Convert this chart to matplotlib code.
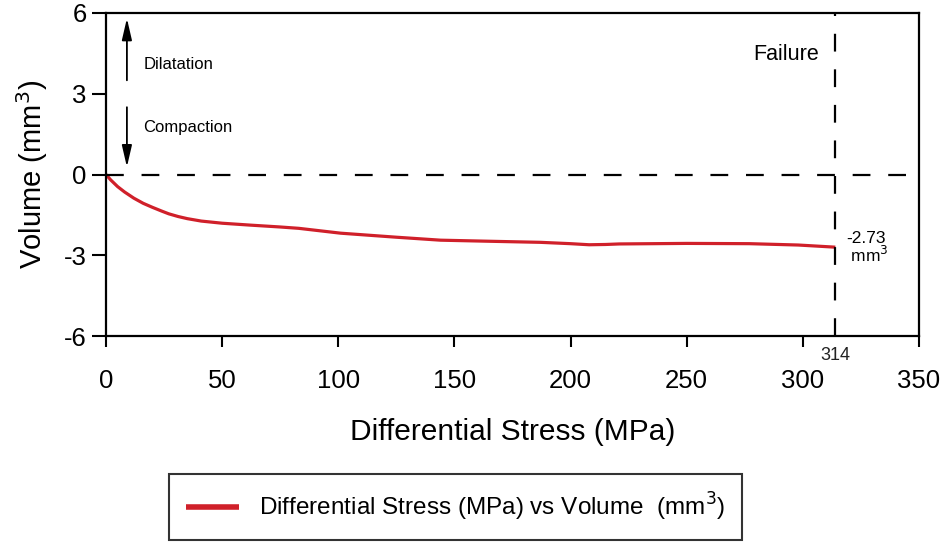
import matplotlib
matplotlib.use("Agg")
import matplotlib.pyplot as plt

plt.rcParams["font.family"] = ["Liberation Sans", "DejaVu Sans"]
plt.rcParams["axes.unicode_minus"] = False

# ======== data ========
stress = [0, 2, 5, 8, 12, 16, 20, 24, 27, 31, 35, 41, 50, 62, 75, 83, 101,
          125, 144, 165, 187, 200, 208, 215, 221, 250, 277, 298, 314]
volume = [0, -0.2, -0.45, -0.65, -0.88, -1.07, -1.22, -1.36, -1.46, -1.56, -1.64,
          -1.73, -1.81, -1.88, -1.95, -2.0, -2.18, -2.33, -2.44, -2.48, -2.52,
          -2.57, -2.61, -2.6, -2.58, -2.56, -2.57, -2.62, -2.7]

xticks = [0, 50, 100, 150, 200, 250, 300, 350]
yticks = [-6, -3, 0, 3, 6]
failure_stress = 314
final_volume = -2.73

fig = plt.figure(figsize=(9.44, 5.42), dpi=100)
ax = fig.add_axes([106 / 944, 1 - 336 / 542, (919 - 106) / 944, (336 - 13) / 542])

line, = ax.plot(stress, volume, color="#d0202a", lw=2.3, solid_capstyle="butt",
                label="Differential Stress (MPa) vs Volume  (mm$^3$)")

# reference lines
ax.axhline(0, color="black", lw=1.6, dashes=(8, 8))
ax.axvline(failure_stress, color="black", lw=1.6, dashes=(8, 8))

ax.set_xlim(0, 350)
ax.set_ylim(-6, 6)
ax.set_xticks(xticks)
ax.set_yticks(yticks)
ax.tick_params(axis="both", direction="out", width=1.5, labelsize=18.5)
ax.tick_params(axis="y", length=10, pad=4)
ax.tick_params(axis="x", length=8, pad=16)
for s in ax.spines.values():
    s.set_linewidth(1.6)

ax.set_xlabel("Differential Stress (MPa)", fontsize=21.5, labelpad=18)
ax.set_ylabel("Volume (mm$^3$)", fontsize=21, labelpad=10)

# annotations
arrow = dict(arrowstyle="-|>,head_length=1.3,head_width=0.3", color="black", lw=1.3,
             shrinkA=0, shrinkB=0)
ax.annotate("", xy=(9, 5.8), xytext=(9, 3.5), arrowprops=arrow)
ax.annotate("", xy=(9, 0.28), xytext=(9, 2.5), arrowprops=arrow)
ax.text(16, 4.08, "Dilatation", fontsize=12, va="center", ha="left")
ax.text(16, 1.73, "Compaction", fontsize=12, va="center", ha="left")
ax.text(307, 4.46, "Failure", fontsize=15.5, va="center", ha="right")
ax.text(318.5, -2.72, f"{final_volume}\n mm$^3$", fontsize=12.5, va="center",
        ha="left", linespacing=0.95)
ax.text(failure_stress, -6.72, str(failure_stress), fontsize=13, ha="center",
        va="center", color="#222222")

leg = fig.legend(handles=[line], loc="upper left",
                 bbox_to_anchor=(169 / 944, 1 - 474 / 542), borderaxespad=0,
                 fontsize=17.5, frameon=True, fancybox=False, edgecolor="black",
                 handlelength=2.2, borderpad=0.7, handletextpad=0.8)
leg.get_frame().set_linewidth(1.5)
leg.legend_handles[0].set_linewidth(4)

fig.savefig("out.png", dpi=100)
